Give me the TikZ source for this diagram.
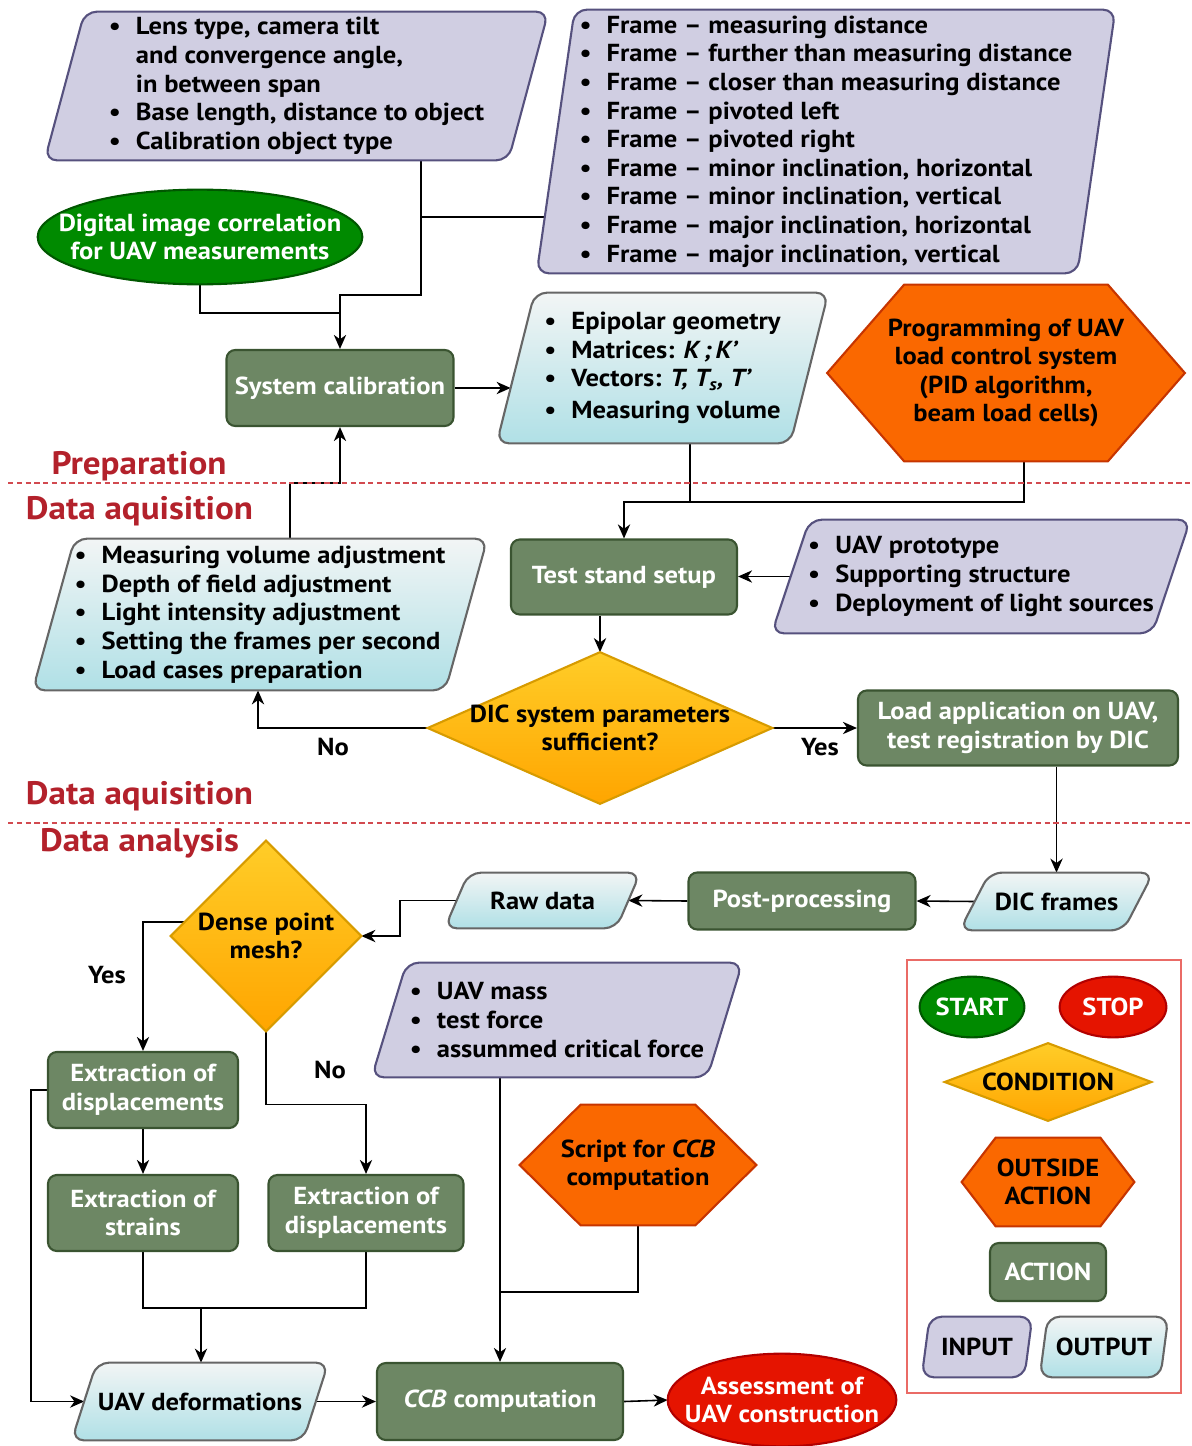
\documentclass[tikz,border=0pt]{standalone}
\usepackage{fontspec}
\setmainfont{PT Sans}[FakeStretch=1.08]
\usetikzlibrary{arrows.meta,calc,positioning}
\definecolor{inpfill}{HTML}{D0CEE2}
\definecolor{inpline}{HTML}{56517E}
\definecolor{outtop}{HTML}{F2F5F5}
\definecolor{outbot}{HTML}{B0E0E6}
\definecolor{outline}{HTML}{666666}
\definecolor{actfill}{HTML}{6D8764}
\definecolor{actline}{HTML}{3A5431}
\definecolor{condtop}{HTML}{FFCD28}
\definecolor{condbot}{HTML}{FFA500}
\definecolor{condline}{HTML}{D79B00}
\definecolor{hexfill}{HTML}{FA6800}
\definecolor{hexline}{HTML}{C73500}
\definecolor{startfill}{HTML}{008A00}
\definecolor{startline}{HTML}{005700}
\definecolor{stopfill}{HTML}{E51400}
\definecolor{stopline}{HTML}{B20000}
\definecolor{seclbl}{HTML}{B3212B}
\definecolor{sepcol}{HTML}{D24A50}
\definecolor{legline}{HTML}{EA6B66}
\pgfdeclarelayer{lines}
\pgfdeclarelayer{shapes}
\pgfsetlayers{lines,shapes,main}
\newcommand{\itm}{\makebox[1.1em][l]{\textbullet}}
\tikzset{
  txt/.style={font=\bfseries\fontsize{14}{16.3}\selectfont, inner sep=0pt},
  sz/.style 2 args={minimum width=#1*0.02cm, minimum height=#2*0.02cm},
  action/.style={txt, align=center, rectangle, rounded corners=5pt, draw=actline, fill=actfill, line width=1.2pt, text=white},
  input/.style={txt, align=left, append after command={\pgfextra{\begin{pgfonlayer}{shapes}
    \draw[rounded corners=7pt, line width=1.2pt, draw=inpline, fill=inpfill]
      ([xshift=#1*0.01cm]\tikzlastnode.north west) -- ([xshift=#1*0.01cm]\tikzlastnode.north east)
      -- ([xshift=-#1*0.01cm]\tikzlastnode.south east) -- ([xshift=-#1*0.01cm]\tikzlastnode.south west) -- cycle;
    \end{pgfonlayer}}}},
  output/.style={txt, align=left, append after command={\pgfextra{\begin{pgfonlayer}{shapes}
    \draw[rounded corners=7pt, line width=1.2pt, draw=outline, top color=outtop, bottom color=outbot]
      ([xshift=#1*0.01cm]\tikzlastnode.north west) -- ([xshift=#1*0.01cm]\tikzlastnode.north east)
      -- ([xshift=-#1*0.01cm]\tikzlastnode.south east) -- ([xshift=-#1*0.01cm]\tikzlastnode.south west) -- cycle;
    \end{pgfonlayer}}}},
  cond/.style={txt, align=center, append after command={\pgfextra{\begin{pgfonlayer}{shapes}
    \draw[line width=1.2pt, draw=condline, top color=condtop, bottom color=condbot]
      (\tikzlastnode.west) -- (\tikzlastnode.north) -- (\tikzlastnode.east) -- (\tikzlastnode.south) -- cycle;
    \end{pgfonlayer}}}},
  outside/.style={txt, align=center, append after command={\pgfextra{\begin{pgfonlayer}{shapes}
    \draw[line width=1.2pt, draw=hexline, fill=hexfill]
      (\tikzlastnode.west) -- ([xshift=#1*0.02cm]\tikzlastnode.north west) -- ([xshift=-#1*0.02cm]\tikzlastnode.north east)
      -- (\tikzlastnode.east) -- ([xshift=-#1*0.02cm]\tikzlastnode.south east) -- ([xshift=#1*0.02cm]\tikzlastnode.south west) -- cycle;
    \end{pgfonlayer}}}},
  terminal/.style={txt, align=center, text=white, append after command={\pgfextra{\begin{pgfonlayer}{shapes}
    \draw[line width=1.2pt, #1] let \p1=($(\tikzlastnode.north east)-(\tikzlastnode.center)$) in
      (\tikzlastnode.center) ellipse [x radius=\x1, y radius=\y1];
    \end{pgfonlayer}}}},
  sect/.style={font=\bfseries\fontsize{18.5}{22}\selectfont, text=seclbl, inner sep=0pt},
  sepline/.style={draw=sepcol, line width=0.8pt, dash pattern=on 3pt off 2pt},
  wire/.style={line width=0.9pt},
  link/.style={line width=0.9pt, -{Stealth[length=8pt, width=7pt, inset=2.5pt]}}
}

\begin{document}
\begin{tikzpicture}[x=0.02cm, y=-0.02cm]
  \useasboundingbox (0,0) rectangle (1192,1446);
  % preparation
  \node[input=40, sz={463}{148}] (lens) at (296.5,86) {\itm Lens type, camera tilt\\ \hspace*{1.1em}and convergence angle,\\ \hspace*{1.1em}in between span\\ \itm Base length, distance to object\\ \itm Calibration object type};
  \node[input=38, sz={540}{263}] (frames) at (826,141.5) {\itm Frame – measuring distance\\ \itm Frame – further than measuring distance\\ \itm Frame – closer than measuring distance\\ \itm Frame – pivoted left\\ \itm Frame – pivoted right\\ \itm Frame – minor inclination, horizontal\\ \itm Frame – minor inclination, vertical\\ \itm Frame – major inclination, horizontal\\ \itm Frame – major inclination, vertical};
  \node[terminal={fill=startfill, draw=startline}, sz={324}{94}] (dic) at (200,237) {Digital image correlation\\for UAV measurements};
  \node[action, sz={227}{76}] (calib) at (340,388) {System calibration};
  \node[output=38, sz={293}{150}] (epi) at (662.5,368) {\itm Epipolar geometry\\ \itm Matrices: \textit{K\,;\,K'}\\ \itm Vectors: \textit{T, T\textsubscript{s}, T'}\\[2pt] \itm Measuring volume};
  \node[outside=77, sz={357}{176}] (pid) at (1006,373) {Programming of UAV\\load control system\\(PID algorithm,\\beam load cells)};
  % data aquisition
  \node[action, sz={226}{75}] (setup) at (624,577) {Test stand setup};
  \node[input=38, sz={380}{113}] (proto) at (981,576.5) {\itm UAV prototype\\ \itm Supporting structure\\ \itm Deployment of light sources};
  \node[output=42, sz={412}{151}] (adjust) at (260,614.5) {\itm Measuring volume adjustment\\ \itm Depth of field adjustment\\ \itm Light intensity adjustment\\ \itm Setting the frames per second\\ \itm Load cases preparation};
  \node[cond, sz={344}{151}] (suff) at (600,728) {DIC system parameters\\sufficient?};
  \node[action, sz={320}{75}] (load) at (1018,728) {Load application on UAV,\\test registration by DIC};
  % data analysis
  \node[output=30, sz={163}{57}] (dicfr) at (1056.5,901.5) {DIC frames};
  \node[action, sz={227}{57}] (post) at (802,901) {Post-processing};
  \node[output=24, sz={171}{55}] (raw) at (542.5,900.5) {Raw data};
  \node[cond, sz={190}{190}] (dense) at (266,936) {Dense point\\mesh?};
  \node[input=35, sz={335}{114}] (mass) at (557,1020) {\itm UAV mass\\ \itm test force\\ \itm assummed critical force};
  \node[action, sz={190}{76}] (exdisp1) at (143,1090) {Extraction of\\displacements};
  \node[action, sz={190}{76}] (exstr) at (143,1213) {Extraction of\\strains};
  \node[action, sz={195}{76}] (exdisp2) at (366,1213) {Extraction of\\displacements};
  \node[outside=61, sz={236}{120}] (script) at (638,1165) {Script for \textit{CCB}\\computation};
  \node[output=25, sz={231}{77}] (deform) at (200,1401.5) {UAV deformations};
  \node[action, sz={246}{77}] (ccb) at (500,1401.5) {\textit{CCB} computation};
  \node[terminal={fill=stopfill, draw=stopline}, sz={228}{92}] (assess) at (782,1400) {Assessment of\\UAV construction};
  % sections
  \draw[sepline] (8,483) -- (1192,483);
  \draw[sepline] (8,823) -- (1192,823);
  \node[sect] (prep) at (139,466) {Preparation};
  \node[sect] (acq1) at (139.5,511) {Data aquisition};
  \node[sect] (acq2) at (139.5,796) {Data aquisition};
  \node[sect] (anal) at (139.5,843) {Data analysis};
  % legend
  \draw[draw=legline, line width=1pt] (907,960) rectangle (1181,1393);
  \node[terminal={fill=startfill, draw=startline}, sz={104}{60}] (startL) at (972,1007) {START};
  \node[terminal={fill=stopfill, draw=stopline}, sz={106}{60}] (stopL) at (1113,1007) {STOP};
  \node[cond, sz={206}{77}] (condL) at (1048,1082) {CONDITION};
  \node[outside=34, sz={172}{88}] (outL) at (1048,1182) {OUTSIDE\\ACTION};
  \node[action, sz={116}{58}] (actL) at (1048,1272) {ACTION};
  \node[input=8, sz={102}{60}] (inL) at (977,1347) {INPUT};
  \node[output=8, sz={120}{60}] (outpL) at (1104,1347) {OUTPUT};
  % connectors
  \coordinate (j1) at (421,295);
  \coordinate (j2) at (421,217);
  \coordinate (j3) at (340,313);
  \coordinate (j4) at (290,483);
  \coordinate (j5) at (690,502);
  \coordinate (j6) at (258,728);
  \coordinate (j7) at (400,900.5);
  \coordinate (j10) at (201,1308);
  \coordinate (j11) at (500,1292);
  \begin{pgfonlayer}{lines}
    \draw[link] (lens.south -| j1) -- (j1) -| (calib.north);
    \draw[wire] (j2) -- (j2 -| frames.west);
    \draw[wire] (dic.south) |- (j3);
    \draw[link] (calib.east) -- ([xshift=-0.1cm]calib.east -| epi.west);
    \draw[link] (adjust.north -| j4) -- (j4) -| (calib.south);
    \draw[link] (epi.south -| j5) -- (j5) -| (setup.north);
    \draw[wire] ([xshift=0.36cm]pid.south) |- (j5);
    \draw[link] (proto.west) -- (proto.west -| setup.east);
    \draw[link] (setup.south -| suff.north) -- (suff.north);
    \draw[link] (suff.west) -- (j6) -- (j6 |- adjust.south);
    \draw[link] (suff.east) -- (load.west);
    \draw[link] (load.south -| dicfr.north) -- (dicfr.north);
    \draw[link] (dicfr.west) -- (post.east);
    \draw[link] (post.west) -- (raw.east);
    \draw[link] (raw.west) -- (j7) |- (dense.east);
    \draw[link] ([shift={(0.3cm,0.28cm)}]dense.west) -| (exdisp1.north);
    \draw[link] (dense.south) -- ++(0,73) -| (exdisp2.north);
    \draw[link] (exdisp1.south) -- (exstr.north);
    \draw[link] (exdisp1.west) -- ++(-16,0) |- (deform.west);
    \draw[wire] (exstr.south) |- (j10) -| (exdisp2.south);
    \draw[link] (j10) -- (j10 |- deform.north);
    \draw[link] (deform.east) -- (ccb.west);
    \draw[link] (mass.south -| ccb.north) -- (ccb.north);
    \draw[wire] (script.south) |- (j11);
    \draw[link] (ccb.east) -- (assess.west);
  \end{pgfonlayer}
  \node[txt] (no1) at (333,747) {No};
  \node[txt] (yes1) at (820,747) {Yes};
  \node[txt] (yes2) at (107,975) {Yes};
  \node[txt] (no2) at (330,1070) {No};
\end{tikzpicture}
\end{document}
